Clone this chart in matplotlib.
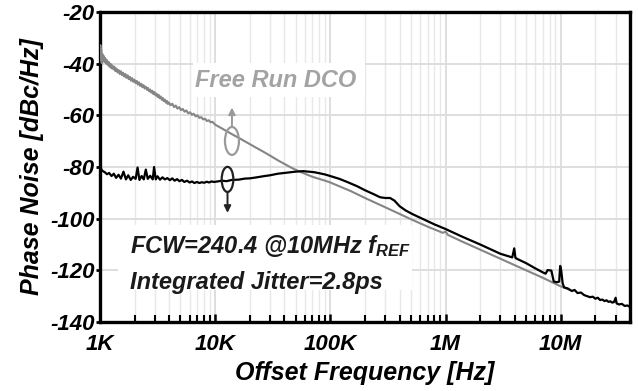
import matplotlib
matplotlib.use("Agg")
import matplotlib.pyplot as plt
from matplotlib.patches import Ellipse, Rectangle

plt.rcParams['font.family'] = ['Liberation Sans', 'DejaVu Sans']
plt.rcParams['font.weight'] = 'bold'
plt.rcParams['font.style'] = 'italic'
plt.rcParams['axes.labelweight'] = 'bold'
plt.rcParams['axes.unicode_minus'] = False
plt.rcParams['mathtext.fontset'] = 'custom'
plt.rcParams['mathtext.it'] = 'Liberation Sans:italic:bold'
plt.rcParams['mathtext.rm'] = 'Liberation Sans:italic:bold'

# free running DCO phase noise (Hz, dBc/Hz)
free_freq = [1000, 1008, 1016, 1024, 1035, 1048, 1062, 1077, 1093, 1110, 1128, 1147,
             1167, 1188, 1210, 1233, 1257, 1282, 1308, 1335, 1363, 1392, 1422, 1453,
             1485, 1518, 1552, 1587, 1623, 1660, 1698, 1737, 1777, 1818, 1860, 1903,
             1947, 1992, 2038, 2085, 2133, 2182, 2232, 2283, 2335, 2388, 2442, 2497,
             2553, 2610, 2668, 2727, 2787, 2848, 2910, 2973, 3037, 3102, 3168, 3235,
             3303, 3372, 3442, 3513, 3585, 3658, 3732, 3807, 3883, 3960, 4100, 4250,
             4400, 4550, 4700, 4870, 5050, 5230, 5420, 5620, 5830, 6050, 6280, 6520,
             6770, 7030, 7300, 7580, 7870, 8170, 8480, 8800, 9130, 9470, 9820, 10000,
             12000, 14000, 16000, 19000, 22000, 26000, 30000, 35000, 40000, 46000,
             53000, 60000, 70000, 80000, 90000, 100000, 120000, 150000, 200000,
             300000, 500000, 700000, 950000, 1000000, 1050000, 1400000, 2000000,
             3000000, 4000000, 5000000, 7000000, 10000000, 12000000]
free_pn = [-36.0, -32.8, -38.5, -34.5, -39.8, -36.2, -38.9, -37.0, -39.4, -37.8, -39.9, -38.6,
           -40.5, -39.3, -41.2, -40.0, -41.8, -40.7, -42.2, -41.2, -42.9, -41.9, -43.4, -42.5,
           -44.0, -42.9, -44.4, -43.5, -45.0, -44.0, -45.5, -44.5, -46.0, -45.1, -46.6, -45.6,
           -47.0, -46.2, -47.5, -46.7, -48.1, -47.2, -48.6, -47.8, -49.1, -48.3, -49.6, -48.9,
           -50.1, -49.4, -50.7, -50.0, -51.2, -50.5, -51.8, -51.0, -52.3, -51.6, -52.9, -52.1,
           -53.4, -52.7, -54.0, -53.3, -54.5, -53.9, -55.1, -54.4, -55.6, -55.0, -56.1, -55.5,
           -56.8, -56.2, -57.4, -56.8, -58.0, -57.5, -58.6, -58.1, -59.2, -58.8, -59.8, -59.4,
           -60.4, -60.0, -61.0, -60.7, -61.6, -61.3, -62.2, -61.9, -62.7, -62.5, -63.2, -63.6,
           -65.6, -67.3, -68.7, -70.6, -72.2, -74.0, -75.6, -77.4, -78.8, -80.3,
           -81.6, -82.6, -83.8, -84.6, -85.3, -86.0, -87.5, -89.3, -92.0,
           -95.6, -100.2, -103.1, -105.5, -105.0, -106.3, -108.9, -112.0,
           -115.5, -118.0, -120.0, -122.9, -126.2, -127.6]

# locked loop phase noise
lock_freq = [1000, 1050, 1100, 1150, 1200, 1260, 1320, 1380, 1450, 1520, 1600, 1680,
             1760, 1850, 1940, 2040, 2120, 2200, 2300, 2400, 2500, 2600, 2730, 2870,
             2950, 3050, 3160, 3320, 3490, 3660, 3850, 4040, 4240, 4450, 4670, 4900,
             5150, 5400, 5700, 6000, 6300, 6600, 6950, 7300, 7650, 8050, 8450, 8850,
             9300, 9800, 10500, 11500, 12500, 14000, 16000, 18000, 20000, 23000, 26000,
             30000, 35000, 40000, 45000, 50000, 58000, 65000, 72000, 80000, 90000,
             100000, 120000, 140000, 170000, 200000, 240000, 270000, 300000, 330000,
             360000, 400000, 450000, 520000, 600000, 700000, 800000, 1000000, 1400000,
             2000000, 3000000, 3800000, 3950000, 4050000, 4200000, 5000000, 6000000,
             7000000, 7400000, 7700000, 8300000, 8700000, 9200000, 9700000, 9900000,
             10100000, 10400000, 10700000, 11500000, 12500000, 13200000, 14000000,
             15000000, 16000000, 17000000, 18000000, 19000000, 20000000, 21000000,
             22000000, 23000000, 24000000, 25000000, 26000000, 27000000, 28000000,
             29000000, 30000000, 30600000, 32000000, 34000000, 36000000, 38000000,
             40000000]
lock_pn = [-80.0, -81.5, -82.0, -82.8, -82.3, -83.5, -82.6, -84.2, -83.0, -84.5, -81.8, -84.8,
           -83.2, -85.0, -83.8, -84.6, -80.2, -85.0, -83.5, -84.8, -81.0, -84.6, -83.4, -84.8,
           -80.0, -84.8, -83.6, -84.9, -84.0, -84.8, -84.3, -85.1, -84.4, -85.3, -84.7, -85.5,
           -85.0, -85.8, -85.3, -86.0, -85.6, -86.2, -85.8, -86.2, -85.9, -86.1, -85.7, -86.0,
           -85.6, -85.8, -85.6, -85.3, -85.5, -85.0, -84.9, -84.5, -84.4, -84.0, -83.6,
           -83.2, -82.6, -82.3, -82.0, -81.8, -81.6, -81.8, -82.0, -82.4, -82.9,
           -83.5, -84.6, -85.8, -87.4, -89.0, -90.6, -91.7, -92.0, -92.0,
           -93.0, -95.2, -96.8, -98.3, -99.6, -101.0, -102.2, -104.0, -107.0,
           -110.0, -113.6, -115.0, -111.5, -115.2, -115.6, -117.2, -119.2,
           -120.8, -121.3, -119.9, -120.1, -124.3, -124.6, -124.4, -118.3,
           -120.0, -125.0, -126.6, -127.0, -128.0, -127.6, -128.8,
           -128.6, -129.6, -130.0, -130.4, -130.2, -131.0, -130.6,
           -131.5, -131.3, -131.9, -131.6, -132.2, -132.0, -132.5,
           -132.3, -130.6, -132.8, -133.2, -133.0, -133.8, -133.6,
           -134.2]

xticks = [1e3, 1e4, 1e5, 1e6, 1e7]
xticklabels = ['1K', '10K', '100K', '1M', '10M']
yticks = [-140, -120, -100, -80, -60, -40, -20]

fig = plt.figure(figsize=(6.38, 3.91), dpi=100)
ax = fig.add_axes([0.1567, 0.1765, 0.8308, 0.7928])

ax.semilogx(free_freq, free_pn, color='#858585', lw=1.5, zorder=3)
ax.semilogx(lock_freq, lock_pn, color='black', lw=1.6, zorder=4)

ax.set_xlim(1e3, 4e7)
ax.set_ylim(-140, -20)
ax.set_xticks(xticks)
ax.set_xticklabels(xticklabels)
ax.set_yticks(yticks)

ax.grid(True, which='major', color='#dedede', lw=1.4, zorder=0)
ax.grid(True, which='minor', axis='x', color='#e8e8e8', lw=1.0, zorder=0)
ax.set_axisbelow(True)

ax.tick_params(axis='x', which='major', direction='in', length=6, width=1.8,
               labelsize=16, pad=9)
ax.tick_params(axis='x', which='minor', direction='in', length=5, width=1.5)
ax.tick_params(axis='y', direction='out', length=3, width=2, labelsize=16, pad=1)
for s in ax.spines.values():
    s.set_linewidth(2.4)

ax.set_xlabel('Offset Frequency [Hz]', fontsize=18, labelpad=4)
ax.set_ylabel('Phase Noise [dBc/Hz]', fontsize=18, labelpad=4)

# white boxes behind the annotation texts
ax.add_patch(Rectangle((0.175, 0.726), 0.325, 0.109, transform=ax.transAxes,
                       facecolor='white', edgecolor='none', zorder=2))
ax.add_patch(Rectangle((0.034, 0.103), 0.555, 0.210, transform=ax.transAxes,
                       facecolor='white', edgecolor='none', zorder=2))

ax.text(0.179, 0.759, 'Free Run DCO', transform=ax.transAxes, fontsize=17,
        color='#a3a3a3', ha='left', va='baseline', zorder=5)
ax.text(0.057, 0.2226, r'FCW=240.4 @10MHz $f_{REF}$', transform=ax.transAxes,
        fontsize=17, color='#1a1a1a', ha='left', va='baseline', zorder=5)
ax.text(0.057, 0.1065, 'Integrated Jitter=2.8ps', transform=ax.transAxes,
        fontsize=17, color='#1a1a1a', ha='left', va='baseline', zorder=5)

# ellipse markers with arrows
ax.add_patch(Ellipse((0.249, 0.584), 0.0264, 0.090, transform=ax.transAxes,
                     fill=False, edgecolor='#9a9a9a', lw=1.6, zorder=5))
ax.annotate('', xy=(0.249, 0.692), xytext=(0.249, 0.629), xycoords='axes fraction',
            arrowprops=dict(arrowstyle='-|>', color='#9a9a9a', lw=1.4,
                            mutation_scale=10, shrinkA=0, shrinkB=0), zorder=5)
ax.add_patch(Ellipse((0.2406, 0.460), 0.022, 0.081, transform=ax.transAxes,
                     fill=False, edgecolor='#222222', lw=1.6, zorder=5))
ax.annotate('', xy=(0.2406, 0.352), xytext=(0.2406, 0.419), xycoords='axes fraction',
            arrowprops=dict(arrowstyle='-|>', color='#222222', lw=1.4,
                            mutation_scale=10, shrinkA=0, shrinkB=0), zorder=5)

fig.savefig('out.png', dpi=100)
